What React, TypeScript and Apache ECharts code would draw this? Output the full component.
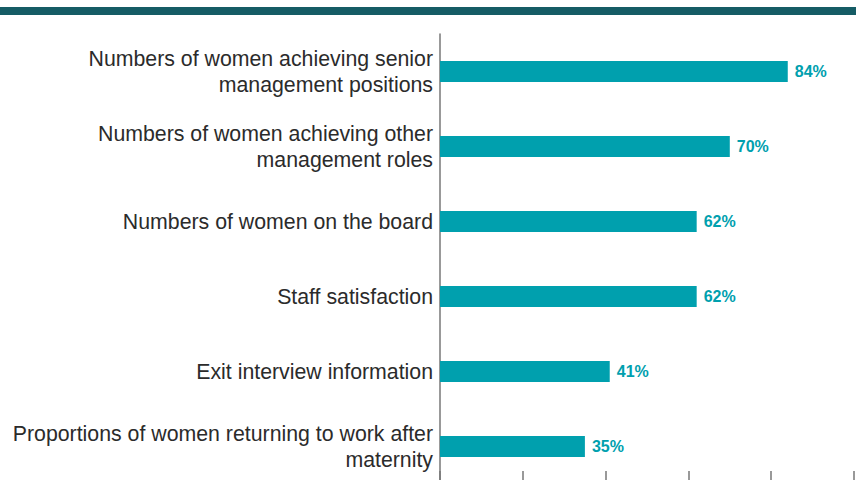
import React, { useEffect, useRef } from "react";
import * as echarts from "echarts";

const categories = [
  "Numbers of women achieving senior\nmanagement positions",
  "Numbers of women achieving other\nmanagement roles",
  "Numbers of women on the board",
  "Staff satisfaction",
  "Exit interview information",
  "Proportions of women returning to work after\nmaternity",
];
const values = [84, 70, 62, 62, 41, 35];

const TEAL = "#00a0ae";
const FONT = "'Liberation Sans', Arial, Helvetica, sans-serif";

export default function App() {
  const ref = useRef<HTMLDivElement>(null);
  useEffect(() => {
    document.body.style.margin = "0";
    const chart = echarts.init(ref.current!, null, { renderer: "svg" });
    chart.setOption({
      animation: false,
      textStyle: { fontFamily: FONT },
      graphic: [
        {
          type: "rect",
          shape: { x: 0, y: 7, width: 856, height: 8 },
          style: { fill: "#155c65" },
        },
      ],
      grid: { left: 440, right: 2, top: 34, height: 450, containLabel: false },
      xAxis: {
        type: "value",
        min: 0,
        max: 100,
        interval: 20,
        axisLine: { show: false },
        axisTick: { show: true, inside: true, length: 13, lineStyle: { color: "#777", width: 1.5 } },
        axisLabel: { show: false },
        splitLine: { show: false },
      },
      yAxis: {
        type: "category",
        inverse: true,
        data: categories,
        axisLine: { show: true, lineStyle: { color: "#777", width: 1.5 } },
        axisTick: { show: false },
        axisLabel: {
          fontSize: 21.3,
          lineHeight: 26,
          color: "#2b2b2b",
          margin: 7,
          fontFamily: FONT,
          align: "right",
        },
      },
      series: [
        {
          type: "bar",
          data: values,
          barWidth: 21,
          itemStyle: { color: TEAL },
          label: {
            show: true,
            position: "right",
            distance: 7,
            formatter: "{c}%",
            color: TEAL,
            fontWeight: "bold",
            fontSize: 16,
            fontFamily: FONT,
          },
        },
      ],
    });
    return () => chart.dispose();
  }, []);
  return <div ref={ref} style={{ width: 856, height: 490 }} />;
}
